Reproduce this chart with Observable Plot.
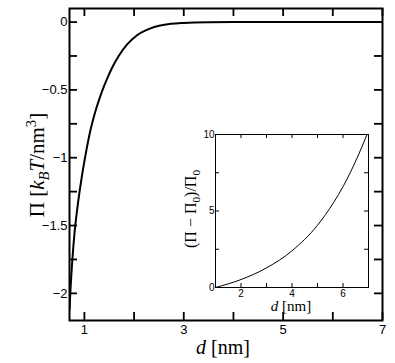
<!DOCTYPE html>
<html>
<head>
<meta charset="utf-8">
<script src="https://cdn.jsdelivr.net/npm/d3@7"></script>
<script src="https://cdn.jsdelivr.net/npm/@observablehq/plot@0.6"></script>
<style>
  html, body { margin: 0; padding: 0; background: #fff; }
  #wrap { position: relative; width: 395px; height: 363px; }
</style>
</head>
<body>
<div id="wrap"></div>
<script>
// ---- Main curve: separation d [nm] vs Π [kBT/nm^3]
const mainD  = [0.70, 0.72, 0.754, 0.80, 0.855, 0.935, 1.02, 1.12, 1.24, 1.36, 1.46, 1.56, 1.69, 1.86, 2.06, 2.33, 2.74, 3.0, 3.5, 4, 5, 6, 7];
const mainPi = [-2.12, -1.97, -1.77, -1.56, -1.38, -1.17, -0.985, -0.80, -0.635, -0.505, -0.415, -0.335, -0.25, -0.165, -0.097, -0.046, -0.013, -0.006, -0.001, 0, 0, 0, 0];

// ---- Inset curve: d [nm] vs (Π − Π0)/Π0
const insetD   = [1, 2, 3, 4, 5, 5.63, 6.02, 6.54, 6.93];
const insetVal = [0, 0.52, 1.28, 2.4, 4.07, 5.55, 6.65, 8.42, 9.95];

// ---- Ticks
const mainXTicks      = [1, 2, 3, 4, 5, 6, 7];
const mainXLabels     = [1, 3, 5, 7];
const mainYTicks      = [-2, -1.75, -1.5, -1.25, -1, -0.75, -0.5, -0.25, 0];
const mainYLabels     = [-2, -1.5, -1, -0.5, 0];
const insetXTicks     = [1, 2, 3, 4, 5, 6, 7];
const insetXLabels    = [2, 4, 6];
const insetYTicks     = [0, 2.5, 5, 7.5, 10];
const insetYLabels    = [0, 5, 10];

const mainData  = mainD.map((d, i) => ({d, v: mainPi[i]}));
const insetData = insetD.map((d, i) => ({d, v: insetVal[i]}));
const fmt = d => (d < 0 ? "\u2212" : "") + String(Math.abs(d));

// ---- Main plot
const W = 395, H = 363, mL = 69, mR = 13, mT = 8, mB = 43;
const fw = W - mL - mR, fh = H - mT - mB;
const TK = 8;

const main = Plot.plot({
  width: W, height: H,
  marginLeft: mL, marginRight: mR, marginTop: mT, marginBottom: mB,
  style: {fontFamily: "'Liberation Sans', Arial, sans-serif", fontSize: "13px", background: "white", overflow: "visible"},
  x: {domain: [0.7, 7]},
  y: {domain: [-2.2, 0.1]},
  marks: [
    Plot.line(mainData, {x: "d", y: "v", stroke: "black", strokeWidth: 2, curve: "monotone-x", clip: true}),
    Plot.tickX(mainXTicks, {x: d => d, insetTop: fh - TK, stroke: "black", strokeWidth: 1.8}),
    Plot.tickX(mainXTicks, {x: d => d, insetBottom: fh - TK, stroke: "black", strokeWidth: 1.8}),
    Plot.tickY(mainYTicks, {y: d => d, insetRight: fw - TK, stroke: "black", strokeWidth: 1.8}),
    Plot.tickY(mainYTicks, {y: d => d, insetLeft: fw - TK, stroke: "black", strokeWidth: 1.8}),
    Plot.axisX({ticks: mainXLabels, tickSize: 0, tickPadding: 4, label: null, fontSize: 13, tickFormat: fmt}),
    Plot.axisY({ticks: mainYLabels, tickSize: 0, tickPadding: 2, label: null, fontSize: 13, tickFormat: fmt}),
    Plot.frame({stroke: "black", strokeWidth: 2})
  ]
});
document.getElementById("wrap").appendChild(main);

// ---- Inset plot
const iW = 200, iH = 200, iL = 40, iR = 7, iT = 14, iB = 33;
const ifw = iW - iL - iR, ifh = iH - iT - iB;
const iTK = 4;
const inset = Plot.plot({
  width: iW, height: iH,
  marginLeft: iL, marginRight: iR, marginTop: iT, marginBottom: iB,
  style: {fontFamily: "'Liberation Sans', Arial, sans-serif", fontSize: "10px", background: "transparent", overflow: "visible",
          position: "absolute", left: "175px", top: "120px"},
  x: {domain: [1, 7]},
  y: {domain: [0, 10]},
  marks: [
    Plot.frame({fill: "white", stroke: "none"}),
    Plot.line(insetData, {x: "d", y: "v", stroke: "black", strokeWidth: 1, curve: "monotone-x", clip: true}),
    Plot.tickX(insetXTicks, {x: d => d, insetTop: ifh - iTK, stroke: "black", strokeWidth: 1}),
    Plot.tickX(insetXTicks, {x: d => d, insetBottom: ifh - iTK, stroke: "black", strokeWidth: 1}),
    Plot.tickY(insetYTicks, {y: d => d, insetRight: ifw - iTK, stroke: "black", strokeWidth: 1}),
    Plot.tickY(insetYTicks, {y: d => d, insetLeft: ifw - iTK, stroke: "black", strokeWidth: 1}),
    Plot.axisX({ticks: insetXLabels, tickSize: 0, tickPadding: 2, label: null, fontSize: 10, tickFormat: fmt}),
    Plot.axisY({ticks: insetYLabels, tickSize: 0, tickPadding: 1, label: null, fontSize: 10, tickFormat: fmt}),
    Plot.frame({stroke: "black", strokeWidth: 1})
  ]
});
document.getElementById("wrap").appendChild(inset);

// ---- Math-style axis titles
const serif = "'Liberation Serif', 'Times New Roman', serif";

function addRuns(textSel, runs, size) {
  let shift = 0;
  runs.forEach(r => {
    const t = textSel.append("tspan").text(r.t);
    let target = 0, fs = size;
    if (r.sub) { target = size * 0.25; fs = size * 0.7; }
    if (r.sup) { target = -size * 0.4; fs = size * 0.7; }
    t.attr("font-size", fs + "px");
    if (r.it) t.attr("font-style", "italic");
    const dy = target - shift;
    if (dy !== 0) t.attr("dy", dy);
    shift = target;
  });
}

const ms = d3.select(main);
const yl = ms.append("text")
  .attr("transform", "translate(44,165) rotate(-90)")
  .attr("text-anchor", "middle")
  .attr("font-family", serif).attr("fill", "black");
addRuns(yl, [{t: "Π ["}, {t: "k", it: true}, {t: "B", it: true, sub: true}, {t: "T", it: true}, {t: "/nm"}, {t: "3", sup: true}, {t: "]"}], 21);

const xl = ms.append("text")
  .attr("x", 223).attr("y", 354)
  .attr("text-anchor", "middle")
  .attr("font-family", serif).attr("fill", "black");
addRuns(xl, [{t: "d", it: true}, {t: " [nm]"}], 20);

const is = d3.select(inset);
const iyl = is.append("text")
  .attr("transform", "translate(21,89) rotate(-90)")
  .attr("text-anchor", "middle")
  .attr("font-family", serif).attr("fill", "black");
addRuns(iyl, [{t: "(Π − Π"}, {t: "0", sub: true}, {t: ")/Π"}, {t: "0", sub: true}], 16);

const ixl = is.append("text")
  .attr("x", 116).attr("y", 191)
  .attr("text-anchor", "middle")
  .attr("font-family", serif).attr("fill", "black");
addRuns(ixl, [{t: "d", it: true}, {t: " [nm]"}], 15);
</script>
</body>
</html>
